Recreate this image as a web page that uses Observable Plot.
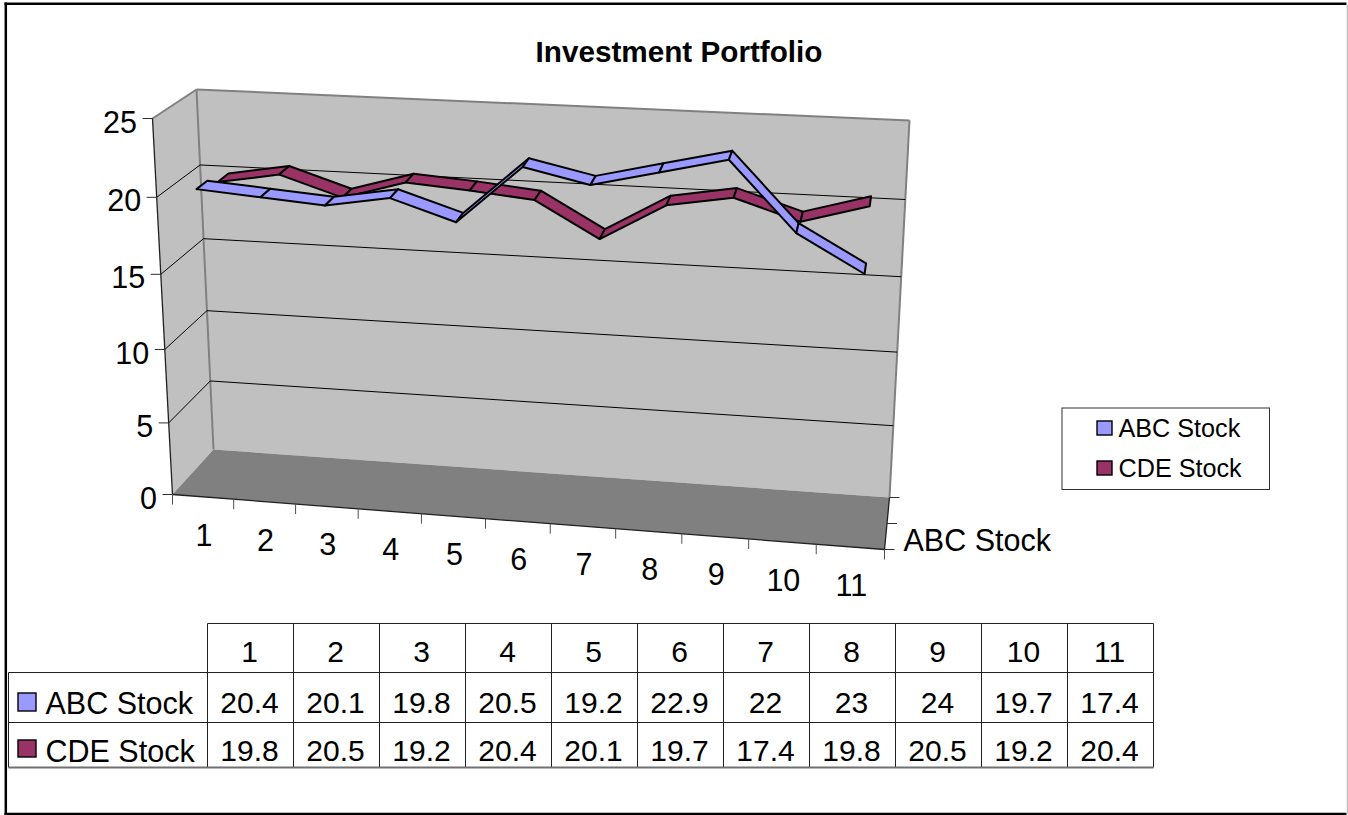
<!DOCTYPE html>
<html><head><meta charset="utf-8">
<script src="https://cdn.jsdelivr.net/npm/d3@7"></script>
<script src="https://cdn.jsdelivr.net/npm/@observablehq/plot@0.6"></script>
<style>html,body{margin:0;padding:0;background:#fff}svg{display:block}</style>
</head><body><div id="chart"></div>
<script>
const title = "Investment Portfolio";
const categories = [1,2,3,4,5,6,7,8,9,10,11];
const seriesNames = ["ABC Stock","CDE Stock"];
const abc = [20.4,20.1,19.8,20.5,19.2,22.9,22,23,24,19.7,17.4];
const cde = [19.8,20.5,19.2,20.4,20.1,19.7,17.4,19.8,20.5,19.2,20.4];
const yTicks = [0,5,10,15,20,25];
const colors = {ABC:"#9999ff", CDE:"#993366", wall:"#c0c0c0", floor:"#808080", edge:"#808080"};

// 3-D view: the eight corners of the chart box as the picture shows them
const view = {
  frontBottomLeft:[172,494], frontBottomRight:[884,549], frontTopLeft:[152,118], frontTopRight:[906,156],
  backBottomLeft:[213,449], backBottomRight:[889,497], backTopLeft:[196,89], backTopRight:[909,120]
};
const N = categories.length, VMAX = 25;
const along = u => (60.8*u + 0.354*u*u)/(60.8*N + 0.354*N*N); // perspective along the category axis
const up = v => { const f=v/VMAX; return 0.94*f + 0.06*f*f; }; // perspective along the value axis
const mix = (a,b,t) => [a[0]+(b[0]-a[0])*t, a[1]+(b[1]-a[1])*t];
function project(u,v,d){
  const t=along(u), w=up(v);
  const front = mix(mix(view.frontBottomLeft,view.frontBottomRight,t), mix(view.frontTopLeft,view.frontTopRight,t), w);
  const back  = mix(mix(view.backBottomLeft,view.backBottomRight,t), mix(view.backTopLeft,view.backTopRight,t), w);
  return mix(front,back,d);
}
const link = (a,b) => ({x1:a[0],y1:a[1],x2:b[0],y2:b[1]});
const P = (...c) => project(...c);
const poly = (id,corners) => [...corners,corners[0]].map(p => ({id,x:p[0],y:p[1]}));

// ribbons
const bands = {ABC:[0.12,0.38], CDE:[0.62,0.88]};
const uOf = i => 0.55+i*0.995;
function ribbon(vals,[d0,d1],name){
  const out=[];
  for(let i=0;i<vals.length-1;i++){
    out.push(...poly(name+i,[P(uOf(i),vals[i],d0),P(uOf(i+1),vals[i+1],d0),P(uOf(i+1),vals[i+1],d1),P(uOf(i),vals[i],d1)]));
  }
  return out;
}
const polyMark=(data,fill,opts={})=>Plot.line(data,{x:"x",y:"y",z:"id",fill,stroke:"none",curve:"linear",...opts});
const lineMark=(data,stroke,strokeWidth=1)=>Plot.link(data,{x1:"x1",y1:"y1",x2:"x2",y2:"y2",stroke,strokeWidth});

// Walls
const sideWall=poly("side",[P(0,0,0),P(0,VMAX,0),P(0,VMAX,1),P(0,0,1)]);
const backWall=poly("back",[P(0,0,1),P(0,VMAX,1),P(N,VMAX,1),P(N,0,1)]);
const floor=poly("floor",[P(0,0,0),P(N,0,0),P(N,0,1),P(0,0,1)]);
const grid=yTicks.filter(v=>v>0&&v<VMAX).flatMap(v=>[link(P(0,v,0),P(0,v,1)),link(P(0,v,1),P(N,v,1))]);
const edges=[link(P(0,VMAX,0),P(0,VMAX,1)),link(P(0,VMAX,1),P(N,VMAX,1)),link(P(0,VMAX,1),P(0,0,1)),link(P(N,VMAX,1),P(N,0,1))];
const axes=[link(P(0,VMAX,0),P(0,0,0)),link(P(0,0,0),P(N,0,0)),link(P(N,0,0),P(N,0,1))];
const tick=(p,dx,dy)=>link(p,[p[0]+dx,p[1]+dy]);
const yTickLines=yTicks.map(v=>tick(P(0,v,0),-10,0));
const xTickLines=d3.range(0,N+1).map(u=>tick(P(u,0,0),0,10));
const zTickLines=[0,0.5,1].map(d=>tick(P(N,0,d),10,0));
const yLabels=yTicks.map(v=>{const p=P(0,v,0);return {x:p[0],y:p[1],t:String(v)}});
const xLabels=categories.map((c,i)=>{const p=P(i+0.5,0,0);return {x:p[0],y:p[1],t:String(c)}});

// Data table
const tableLeft=8, colLeft=207, colW=86, rows=[623,672,722,767];
const colX=i=>colLeft+i*colW;
const tableRules=[
  {x1:colLeft,y1:rows[0],x2:colX(N),y2:rows[0]},
  {x1:tableLeft,y1:rows[1],x2:colX(N),y2:rows[1]},
  {x1:tableLeft,y1:rows[2],x2:colX(N),y2:rows[2]},
  {x1:tableLeft,y1:rows[1],x2:tableLeft,y2:rows[3]},
  ...d3.range(0,N+1).map(i=>({x1:colX(i),y1:rows[0],x2:colX(i),y2:rows[3]}))
];
const tableBottom=[{x1:tableLeft,y1:rows[3],x2:colX(N),y2:rows[3]}];
const cellText=(vals,y)=>vals.map((v,i)=>({x:colX(i)+colW/2-1,y,t:String(v)}));
const font="Liberation Sans";
const textMark=(d,o)=>Plot.text(d,{x:"x",y:"y",text:"t",fontFamily:font,fill:"black",lineAnchor:"bottom",...o});

const legendSwatches=[
  {x1:1097,x2:1112,y1:421,y2:435,fill:colors.ABC},
  {x1:1097,x2:1112,y1:461,y2:475,fill:colors.CDE},
  {x1:18,x2:36,y1:693,y2:711,fill:colors.ABC},
  {x1:18,x2:36,y1:740,y2:757,fill:colors.CDE}
];
const frameBlack=[
  {x1:4,y1:3.2,x2:1346,y2:3.2},{x1:5.3,y1:2,x2:5.3,y2:814.7},{x1:4,y1:813.5,x2:1346,y2:813.5}
];
const frameGrey=[{x1:1347,y1:4,x2:1347,y2:813}];

const chart=Plot.plot({
  width:1348,height:815,margin:0,
  x:{domain:[0,1348],range:[0,1348],axis:null},
  y:{domain:[0,815],range:[0,815],axis:null},
  marks:[
    lineMark(frameBlack,"black",2.5),
    lineMark(frameGrey,"#c0c0c0",1.5),
    polyMark(sideWall,colors.wall),
    polyMark(backWall,colors.wall),
    polyMark(floor,colors.floor),
    lineMark(edges,colors.edge,2),
    lineMark(grid,"black",1),
    lineMark(axes,"#202020",1.3),
    lineMark(yTickLines,"#303030",1),
    lineMark(xTickLines,"#505050",1),
    lineMark(zTickLines,"#303030",1),
    textMark(yLabels,{dx:-15.5,dy:14,textAnchor:"end",fontSize:30.5}),
    textMark(xLabels,{dx:1,dy:49,fontSize:30.5}),
    textMark([{x:903,y:550,t:seriesNames[0]}],{textAnchor:"start",fontSize:30.5}),
    polyMark(ribbon(cde,bands.CDE,"c"),colors.CDE,{stroke:"black",strokeWidth:2}),
    polyMark(ribbon(abc,bands.ABC,"a"),colors.ABC,{stroke:"black",strokeWidth:2}),
    textMark([{x:678.5,y:61,t:title}],{fontSize:29.7,fontWeight:"bold"}),
    // legend
    Plot.rect([{}],{x1:()=>1062,x2:()=>1269.5,y1:()=>408,y2:()=>489.5,fill:"white",stroke:"#303030",strokeWidth:1}),
    Plot.rect(legendSwatches,{x1:"x1",x2:"x2",y1:"y1",y2:"y2",fill:"fill",stroke:"black",strokeWidth:1.4}),
    textMark([{x:1118,y:436,t:seriesNames[0]},{x:1118,y:476,t:seriesNames[1]}],{textAnchor:"start",fontSize:25.2}),
    // table
    lineMark(tableRules,"#202020",1),
    lineMark(tableBottom,"#707070",2),
    textMark(categories.map((c,i)=>({x:colX(i)+colW/2-1,y:661,t:String(c)})),{fontSize:30}),
    textMark(cellText(abc,712),{fontSize:30}),
    textMark(cellText(cde,760),{fontSize:30}),
    textMark([{x:45,y:713,t:seriesNames[0]},{x:45,y:761,t:seriesNames[1]}],{textAnchor:"start",fontSize:30.5})
  ]
});
document.getElementById("chart").appendChild(chart);
</script></body></html>
